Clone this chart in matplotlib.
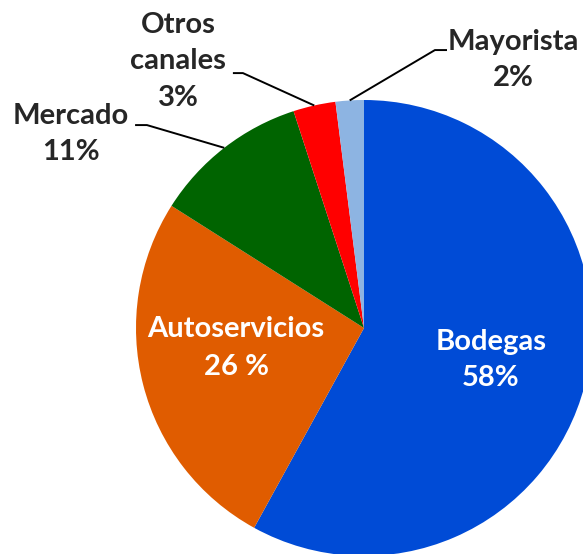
import matplotlib
matplotlib.use("Agg")
import matplotlib.pyplot as plt
import numpy as np

canales = ["Bodegas", "Autoservicios", "Mercado", "Otros\ncanales", "Mayorista"]
porcentajes = [58, 26, 11, 3, 2]
etiquetas = ["58%", "26 %", "11%", "3%", "2%"]
colores = ["#004BD6", "#E05C00", "#006400", "#FF0000", "#8DB4E2"]

plt.rcParams['font.family'] = ['Lato', 'DejaVu Sans']

W, H = 583, 554
fig = plt.figure(figsize=(W / 100, H / 100), dpi=100)
cx, cy, r = 364, 328, 228
ax = fig.add_axes([(cx - r) / W, (H - cy - r) / H, 2 * r / W, 2 * r / H])

wedges, _ = ax.pie(porcentajes, colors=colores, startangle=90, counterclock=False,
                   radius=1, wedgeprops=dict(linewidth=0))
ax.set_xlim(-1, 1)
ax.set_ylim(-1, 1)
ax.set_aspect("equal")
ax.axis("off")

gris = "#262626"
fs = 21
# dentro del pie
inside = {0: (0.557, -0.14, 1.45), 1: (-0.561, -0.088, 1.55)}
for i, (x, y, ls) in inside.items():
    ax.text(x, y, canales[i] + "\n" + etiquetas[i], ha="center", va="center",
            color="white", fontsize=fs, fontweight="bold", linespacing=ls)

# fuera, con lineas guia
outside = {2: ((-1.285, 0.851), (-1.004, -0.952, 0.890)),
           3: ((-0.816, 1.171), (-0.575, -0.531, 1.118)),
           4: ((0.654, 1.175), (0.364, 0.311, 1.219))}
for i, ((tx, ty), (x0, x1, yl)) in outside.items():
    w = wedges[i]
    ang = np.deg2rad((w.theta1 + w.theta2) / 2)
    ex, ey = np.cos(ang), np.sin(ang)
    ax.plot([x0, x1, ex], [yl, yl, ey], color="black", lw=1.4, clip_on=False,
            solid_capstyle="butt")
    ax.text(tx, ty, canales[i] + "\n" + etiquetas[i], ha="center", va="center",
            color=gris, fontsize=fs, fontweight="bold", linespacing=1.5)

fig.savefig("out.png", dpi=100)
